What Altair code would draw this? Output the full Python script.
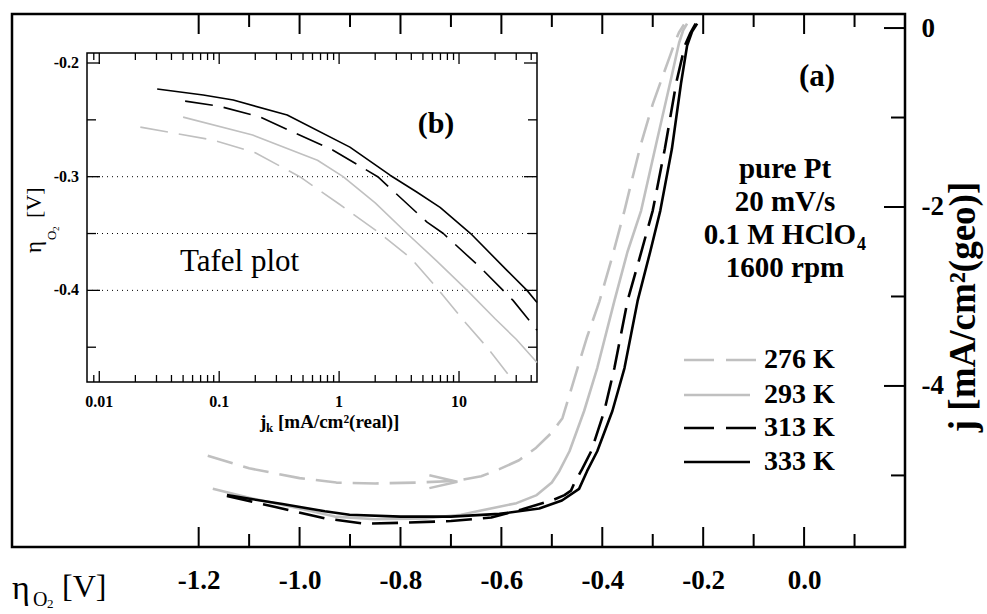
import altair as alt
import pandas as pd

FONT = "Liberation Serif"
GRAY = "#c0c0c0"

temps = ["276 K", "293 K", "313 K", "333 K"]
series_colors = [GRAY, GRAY, "black", "black"]
series_dashed = [True, False, True, False]

# ---- panel (a): polarization curves, eta [V] vs j [mA/cm2(geo)] ----
eta_276 = [-1.182, -1.10, -1.00, -0.927, -0.85, -0.768, -0.689, -0.640, -0.604, -0.565, -0.531, -0.500,
           -0.479, -0.465, -0.449, -0.430, -0.406, -0.380, -0.356, -0.340, -0.323, -0.300, -0.281, -0.265,
           -0.257, -0.248, -0.238]
j_276 = [-4.78, -4.92, -5.03, -5.08, -5.09, -5.08, -5.06, -5.01, -4.93, -4.83, -4.69, -4.52,
         -4.36, -4.10, -3.80, -3.45, -3.06, -2.55, -2.04, -1.67, -1.29, -0.85, -0.55, -0.30,
         -0.17, -0.05, 0.04]

eta_293 = [-1.172, -1.10, -1.00, -0.93, -0.85, -0.75, -0.68, -0.638, -0.570, -0.530, -0.500, -0.485,
           -0.465, -0.436, -0.410, -0.376, -0.350, -0.323, -0.293, -0.263, -0.248, -0.240, -0.232]
j_293 = [-5.15, -5.25, -5.37, -5.46, -5.49, -5.48, -5.44, -5.39, -5.31, -5.22, -5.08, -4.95,
         -4.73, -4.28, -3.80, -3.05, -2.50, -2.04, -1.29, -0.55, -0.17, -0.03, 0.05]

eta_313 = [-1.144, -1.05, -0.95, -0.87, -0.80, -0.70, -0.62, -0.56, -0.50, -0.475, -0.462, -0.455,
           -0.440, -0.422, -0.396, -0.376, -0.350, -0.325, -0.300, -0.276, -0.253, -0.236, -0.225, -0.215]
j_313 = [-5.23, -5.35, -5.48, -5.54, -5.53, -5.51, -5.47, -5.38, -5.28, -5.22, -5.17, -5.08,
         -4.93, -4.73, -4.28, -3.80, -3.05, -2.55, -2.04, -1.35, -0.60, -0.19, -0.05, 0.05]

eta_333 = [-1.144, -1.034, -0.95, -0.901, -0.80, -0.70, -0.604, -0.525, -0.480, -0.446, -0.430, -0.410,
           -0.380, -0.356, -0.330, -0.305, -0.285, -0.262, -0.244, -0.232, -0.222, -0.212]
j_333 = [-5.22, -5.32, -5.40, -5.44, -5.46, -5.46, -5.43, -5.37, -5.28, -5.15, -4.95, -4.73,
         -4.28, -3.80, -3.05, -2.50, -2.04, -1.35, -0.62, -0.20, -0.04, 0.05]

arrow_eta = [-0.715]
arrow_j = [-5.07]

x_major = [-1.2, -1.0, -0.8, -0.6, -0.4, -0.2, 0.0]
x_minor = [-1.1, -0.9, -0.7, -0.5, -0.3, -0.1, 0.1]
y_major = [0, -2, -4]
y_minor = [-1, -3, -5]

# ---- panel (b): Tafel plot, j_k [mA/cm2(real)] vs eta [V] ----
jk_276 = [0.022, 0.089, 0.2, 0.47, 1.0, 2.2, 4.0, 6.8, 11.0, 17.1, 28.2]
etab_276 = [-0.2564, -0.2678, -0.279, -0.300, -0.324, -0.350, -0.372, -0.400, -0.427, -0.450, -0.4793]

jk_293 = [0.05, 0.19, 0.66, 1.08, 2.0, 3.69, 6.5, 11.7, 20.0, 30.0, 44.7]
etab_293 = [-0.2476, -0.2634, -0.2855, -0.300, -0.323, -0.350, -0.374, -0.400, -0.425, -0.443, -0.4634]

jk_313 = [0.052, 0.10, 0.22, 0.89, 2.1, 5.41, 7.4, 15.0, 23.3, 28.2, 44.7]
etab_313 = [-0.2335, -0.238, -0.2476, -0.2767, -0.300, -0.340, -0.350, -0.3797, -0.400, -0.4088, -0.435]

jk_333 = [0.0304, 0.0736, 0.131, 0.369, 1.23, 2.66, 4.47, 6.95, 12.5, 25.1, 36.9, 44.7]
etab_333 = [-0.2229, -0.2282, -0.2326, -0.2458, -0.274, -0.2987, -0.3137, -0.327, -0.350, -0.3824, -0.400, -0.4106]

ix_major = [0.01, 0.1, 1, 10]
ix_labels = ["0.01", "0.1", "1", "10"]
ix_minor = [0.009, 0.02, 0.03, 0.04, 0.05, 0.06, 0.07, 0.08, 0.09,
            0.2, 0.3, 0.4, 0.5, 0.6, 0.7, 0.8, 0.9,
            2, 3, 4, 5, 6, 7, 8, 9, 20, 30, 40]
iy_major = [-0.2, -0.3, -0.4]
iy_labels = ["-0.2", "-0.3", "-0.4"]
iy_minor = [-0.25, -0.35, -0.45]
iy_grid = [-0.3, -0.35, -0.4]

legend_labels = temps
info_lines = ["pure Pt", "20 mV/s", "0.1 M HClO", "1600 rpm"]

# ---------------- layout ----------------
W, H = 893, 533
XS = alt.Scale(domain=[-1.57, 0.2], nice=False, zero=False)
YS = alt.Scale(domain=[-5.80, 0.157], nice=False, zero=False)
IXS = alt.Scale(type="log", domain=[0.0079, 44.7], range=[75, 525], nice=False)
IYS = alt.Scale(domain=[-0.4806, -0.1912], range=[368, 39], nice=False, zero=False)

XAXIS = alt.Axis(values=x_major, labelExpr="(datum.value < 0 ? '-' : '') + format(abs(datum.value), '.1f')",
                 ticks=False, tickSize=0, domain=False, grid=False, labelFont=FONT, labelFontWeight="bold",
                 labelFontSize=27, labelColor="black", labelPadding=20, title=None)
YAXIS = alt.Axis(orient="right", values=y_major,
                 labelExpr="(datum.value < 0 ? '-' : '') + format(abs(datum.value), 'd')",
                 ticks=False, tickSize=0, domain=False, grid=False, labelFont=FONT, labelFontWeight="bold",
                 labelFontSize=27, labelColor="black", labelPadding=16, title=None)


def mx(field):
    return alt.X(field, type="quantitative", scale=XS, axis=XAXIS)


def my(field):
    return alt.Y(field, type="quantitative", scale=YS, axis=YAXIS)


def ix(field):
    return alt.X(field, type="quantitative", scale=IXS, axis=None)


def iy(field):
    return alt.Y(field, type="quantitative", scale=IYS, axis=None)


def txt(s, x, y, size, weight="normal", align="left", baseline="alphabetic", angle=0, color="black"):
    kw = dict(font=FONT, fontSize=size, fontWeight=weight, align=align, baseline=baseline, color=color)
    if angle:
        kw["angle"] = angle
    return alt.Chart(pd.DataFrame({"t": [s]})).mark_text(**kw).encode(
        x=alt.value(x), y=alt.value(y), text="t:N")


main_series = [(eta_276, j_276), (eta_293, j_293), (eta_313, j_313), (eta_333, j_333)]
inset_series = [(jk_276, etab_276), (jk_293, etab_293), (jk_313, etab_313), (jk_333, etab_333)]

main_layers = []
# axis carrier
main_layers.append(alt.Chart(pd.DataFrame({"x": x_major, "y": [0] * len(x_major)})).mark_point(opacity=0).encode(
    x=mx("x"), y=my("y")))

for (xs_, ys_), c, d in zip(main_series, series_colors, series_dashed):
    df = pd.DataFrame({"x": xs_, "y": ys_, "i": list(range(len(xs_)))})
    kw = dict(color=c, strokeWidth=2.6, strokeCap="butt", strokeJoin="round")
    if d:
        kw["strokeDash"] = [26, 11]
    main_layers.append(alt.Chart(df).mark_line(**kw).encode(x=mx("x"), y=my("y"), order="i:Q"))

main_layers.append(alt.Chart(pd.DataFrame({"x": arrow_eta, "y": arrow_j})).mark_point(
    shape="M -1 -0.46 L 1 0 L -1 0.46", size=784, filled=False, color=GRAY, strokeWidth=2.5, opacity=1
).encode(x=mx("x"), y=my("y")))


def xtick(vals, y1, y2):
    return alt.Chart(pd.DataFrame({"v": vals})).mark_rule(color="black", strokeWidth=2).encode(
        x=mx("v"), y=alt.value(y1), y2=alt.value(y2))


def ytick(vals, x1, x2):
    return alt.Chart(pd.DataFrame({"v": vals})).mark_rule(color="black", strokeWidth=2).encode(
        y=my("v"), x=alt.value(x1), x2=alt.value(x2))


main_layers += [xtick(x_major, H, H - 20), xtick(x_minor, H, H - 13),
                xtick(x_major, 0, 20), xtick(x_minor, 0, 13),
                ytick(y_major, W, W - 21), ytick(y_minor, W, W - 14)]

# legend
LEG_Y = [346, 381, 414, 448]
for lab, c, d, yy in zip(legend_labels, series_colors, series_dashed, LEG_Y):
    kw = dict(color=c, strokeWidth=2.5, strokeCap="butt")
    if d:
        kw["strokeDash"] = [30, 12]
    main_layers.append(alt.Chart(pd.DataFrame({"t": [lab]})).mark_rule(**kw).encode(
        x=alt.value(672), x2=alt.value(745 if d else 738), y=alt.value(yy)))
    main_layers.append(txt(lab, 752, yy, 28, "bold", baseline="middle"))

# annotations panel (a)
main_layers.append(txt("(a)", 805, 72, 31, "bold", align="center"))
main_layers.append(txt(info_lines[0], 773, 164, 29, "bold", align="center"))
main_layers.append(txt(info_lines[1], 773, 197, 29, "bold", align="center"))
main_layers.append(txt(info_lines[2], 844, 230, 29, "bold", align="right"))
main_layers.append(txt("4", 845, 236, 18, "bold"))
main_layers.append(txt(info_lines[3], 773, 263, 29, "bold", align="center"))

# axis titles panel (a)
main_layers.append(txt("j [mA/cm\u00b2(geo)]", 952, 293, 37, "bold", align="center", baseline="middle", angle=270))
main_layers.append(txt("\u03b7", 0, 585, 34))
main_layers.append(txt("O", 21, 592, 20))
main_layers.append(txt("2", 35, 594, 13))
main_layers.append(txt("[V]", 50, 583, 32))

main = alt.layer(*main_layers)

# ---------------- inset ----------------
inset_layers = []
frame = pd.DataFrame({"x1": [IXS.domain[0]], "x2": [IXS.domain[1]], "y1": [IYS.domain[0]], "y2": [IYS.domain[1]]})
inset_layers.append(alt.Chart(frame).mark_rect(fill="white", stroke="black", strokeWidth=1.5).encode(
    x=ix("x1"), x2="x2:Q", y=iy("y1"), y2="y2:Q"))
inset_layers.append(alt.Chart(pd.DataFrame({"v": iy_grid})).mark_rule(
    color="black", strokeWidth=1, strokeDash=[1, 4]).encode(y=iy("v"), x=alt.value(75), x2=alt.value(525)))

for (xs_, ys_), c, d in zip(inset_series, series_colors, series_dashed):
    df = pd.DataFrame({"x": xs_, "y": ys_, "i": list(range(len(xs_)))})
    kw = dict(color=c, strokeWidth=1.6, strokeCap="butt", strokeJoin="round")
    if d:
        kw["strokeDash"] = [28, 11]
    inset_layers.append(alt.Chart(df).mark_line(**kw).encode(x=ix("x"), y=iy("y"), order="i:Q"))


def ixtick(vals, y1, y2):
    return alt.Chart(pd.DataFrame({"v": vals})).mark_rule(color="black", strokeWidth=1.3).encode(
        x=ix("v"), y=alt.value(y1), y2=alt.value(y2))


def iytick(vals, x1, x2):
    return alt.Chart(pd.DataFrame({"v": vals})).mark_rule(color="black", strokeWidth=1.3).encode(
        y=iy("v"), x=alt.value(x1), x2=alt.value(x2))


inset_layers += [ixtick(ix_major, 368, 357), ixtick(ix_minor, 368, 361),
                 ixtick(ix_major, 39, 50), ixtick(ix_minor, 39, 46),
                 iytick(iy_major, 75, 88), iytick(iy_minor, 75, 84),
                 iytick(iy_major, 525, 512), iytick(iy_minor, 525, 516)]

inset_layers.append(alt.Chart(pd.DataFrame({"v": ix_major, "t": ix_labels})).mark_text(
    font=FONT, fontWeight="bold", fontSize=16, baseline="middle", color="black").encode(
    x=ix("v"), y=alt.value(388), text="t:N"))
inset_layers.append(alt.Chart(pd.DataFrame({"v": iy_major, "t": iy_labels})).mark_text(
    font=FONT, fontWeight="bold", fontSize=16, baseline="middle", align="right", color="black").encode(
    y=iy("v"), x=alt.value(67), text="t:N"))

inset_layers.append(txt("(b)", 424, 119, 30, "bold", align="center"))
inset_layers.append(txt("Tafel plot", 168, 257, 31))
# inset axis titles
inset_layers.append(txt("j", 248, 414, 19, "bold"))
inset_layers.append(txt("k", 254, 418, 13, "bold"))
inset_layers.append(txt("[mA/cm\u00b2(real)]", 266, 414, 19, "bold"))
inset_layers.append(txt("\u03b7", 29, 239, 23, angle=270))
inset_layers.append(txt("O", 44, 226, 13, angle=270))
inset_layers.append(txt("2", 47, 217, 9, angle=270))
inset_layers.append(txt("[V]", 29, 204, 22, angle=270))

inset = alt.layer(*inset_layers)

chart = alt.layer(main, inset).resolve_scale(x="independent", y="independent").properties(
    width=W, height=H,
    autosize=alt.AutoSizeParams(type="none"),
    padding={"left": 12, "top": 14, "right": 82, "bottom": 67},
).configure_view(stroke="black", strokeWidth=2.5)

chart.save("out.html", embed_options={"renderer": "svg", "actions": False})
